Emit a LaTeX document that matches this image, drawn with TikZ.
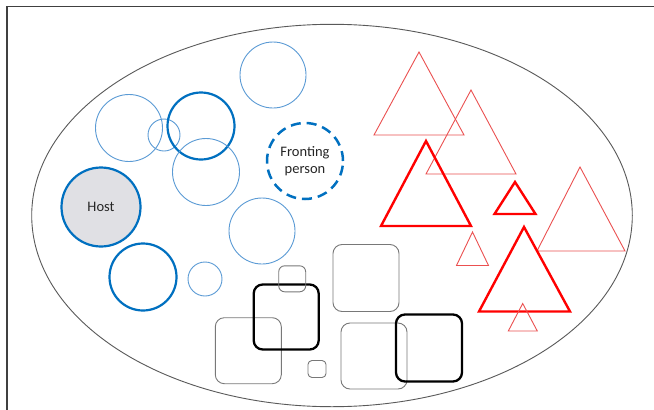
\documentclass[tikz,border=0pt]{standalone}
\usepackage{fontspec}
\setmainfont{Carlito}
\definecolor{lblue}{RGB}{91,155,213}
\definecolor{dblue}{RGB}{0,112,192}
\definecolor{hostgray}{RGB}{224,224,228}
\definecolor{lred}{RGB}{235,80,80}
\definecolor{sqgray}{RGB}{120,120,120}
\tikzset{
  lcirc/.style={circle, draw=lblue, line width=0.9pt, inner sep=0pt, minimum size=#1},
  dcirc/.style={circle, draw=dblue, line width=2.2pt, inner sep=0pt, minimum size=#1},
  ltri/.style={draw=lred, line width=0.9pt, line join=miter},
  dtri/.style={draw=red, line width=2.4pt, line join=miter},
  lsq/.style={rectangle, rounded corners=9pt, draw=sqgray, line width=0.9pt, inner sep=0pt},
  dsq/.style={rectangle, rounded corners=9pt, draw=black, line width=2.3pt, inner sep=0pt},
  lbl/.style={font=\fontsize{14.5}{17}\selectfont, align=center, text=black!85}
}
\begin{document}
\begin{tikzpicture}[x=1pt,y=-1pt]
\useasboundingbox (0,0) rectangle (654,410);
\fill[white] (0,0) rectangle (654,410);
% frame
\draw[line width=1.3pt, draw=black!75] (7,410) -- (7,6.5) -- (654,6.5);
% outer ellipse
\draw[line width=0.9pt, draw=black!65] (332,215.5) ellipse [x radius=300.3, y radius=191.2];
% circles
\node[lcirc=66pt] (c1) at (273,75) {};
\node[lcirc=67pt] (c2) at (129,128) {};
\node[lcirc=32pt] (c3) at (164,135) {};
\node[dcirc=67pt] (c4) at (201,126) {};
\node[lcirc=67pt] (c5) at (206,172) {};
\node[lcirc=66pt] (c6) at (262,231) {};
\node[dcirc=67pt] (c7) at (143,277) {};
\node[lcirc=34pt] (c8) at (205,279) {};
\node[circle, draw=dblue, fill=hostgray, line width=2.2pt, inner sep=0pt, minimum size=79pt, lbl] (host) at (101,207) {Host};
\node[circle, draw=dblue, line width=2.5pt, dash pattern=on 10pt off 6pt, inner sep=0pt, minimum size=76pt, lbl] (front) at (305,161) {Fronting\\person};
% triangles
\draw[ltri] (419,52) -- (464,135) -- (374,135) -- cycle;
\draw[ltri] (471,90) -- (516,174) -- (426,174) -- cycle;
\draw[dtri] (426,141) -- (471,226) -- (381,226) -- cycle;
\draw[dtri] (515,182) -- (535.5,214) -- (494.5,214) -- cycle;
\draw[ltri] (580,167) -- (625,251) -- (537,251) -- cycle;
\draw[ltri] (472.5,232) -- (488.5,265.5) -- (456.5,265.5) -- cycle;
\draw[dtri] (524,227) -- (570,311.5) -- (479,311.5) -- cycle;
\draw[ltri] (522.7,303.5) -- (537.3,331) -- (508.3,331) -- cycle;
% squares
\node[lsq, minimum width=66pt, minimum height=67pt] (s5) at (366,278) {};
\node[lsq, minimum width=66pt, minimum height=66pt] (s6) at (374,356) {};
\node[lsq, minimum width=66pt, minimum height=66pt] (s3) at (248.3,350.7) {};
\node[dsq, minimum width=65pt, minimum height=65pt] (s2) at (286.2,317) {};
\node[lsq, rounded corners=6pt, minimum width=27pt, minimum height=26pt] (s1) at (292.2,278.8) {};
\node[lsq, rounded corners=4pt, minimum width=18pt, minimum height=17pt] (s4) at (317,369) {};
\node[dsq, minimum width=66pt, minimum height=67pt] (s7) at (429,348) {};
\end{tikzpicture}
\end{document}
